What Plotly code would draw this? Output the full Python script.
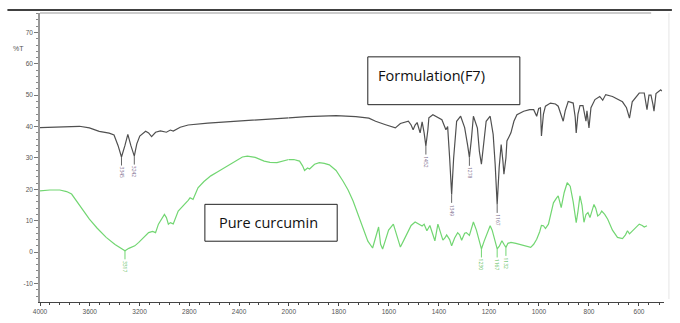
import numpy as np
import plotly.graph_objects as go

# ---------------- data (wavenumber cm-1, %T) ----------------
f7_wn = [4000, 3865, 3786, 3683, 3603, 3524, 3444, 3405, 3373, 3345, 3317, 3294, 3270, 3242,
         3222, 3198, 3151, 3127, 3103, 3071, 3032, 2984, 2952, 2929, 2873, 2809, 2651, 2413,
         2214, 2016, 2000, 1929, 1811, 1732, 1680, 1653, 1613, 1574, 1554, 1522, 1511, 1503,
         1495, 1487, 1475, 1467, 1459, 1452, 1444, 1440, 1424, 1404, 1388, 1372, 1365, 1357,
         1349, 1341, 1329, 1313, 1297, 1285, 1278, 1270, 1262, 1246, 1238, 1230, 1219, 1211,
         1195, 1183, 1175, 1167, 1159, 1151, 1144, 1140, 1132, 1128, 1112, 1100, 1088, 1061,
         1037, 1021, 1009, 1001, 994, 990, 982, 974, 954, 934, 923, 911, 903, 895, 883, 863,
         855, 851, 844, 836, 824, 812, 808, 800, 792, 776, 757, 745, 733, 706, 686, 666, 650,
         638, 627, 599, 579, 572, 568, 560, 552, 544, 540, 532, 524, 513, 509]
f7_t = [39.7, 39.8, 40.0, 40.1, 39.6, 38.5, 37.9, 37.3, 34.0, 30.3, 34.0, 37.5, 34.0, 30.6,
        34.5, 37.0, 38.5, 38.0, 36.8, 38.2, 38.6, 38.2, 38.9, 38.6, 39.8, 40.5, 41.1, 41.7,
        42.4, 42.8, 42.8, 43.2, 43.5, 43.2, 42.7, 41.7, 40.6, 39.6, 41.0, 41.7, 40.5, 39.0,
        40.5, 41.3, 38.0, 41.5, 38.0, 33.8, 39.0, 42.8, 43.8, 43.0, 42.2, 39.0, 40.0, 30.0,
        18.4, 30.0, 41.7, 43.3, 39.7, 34.0, 30.2, 36.0, 43.3, 39.5, 32.0, 28.0, 36.0, 41.7,
        43.3, 37.5, 28.0, 15.2, 27.0, 34.3, 29.0, 24.8, 30.0, 35.4, 38.0, 41.7, 43.8, 44.9,
        45.4, 45.4, 43.3, 45.8, 46.0, 37.0, 44.0, 46.5, 47.5, 47.2, 46.5, 44.0, 41.7, 45.0,
        48.0, 47.5, 43.0, 38.0, 44.0, 46.7, 46.7, 41.7, 45.0, 39.6, 46.0, 48.6, 49.6, 48.4,
        50.2, 49.6, 48.8, 47.9, 46.0, 42.7, 47.9, 50.7, 50.7, 48.0, 45.4, 50.0, 50.0, 47.0,
        44.9, 50.5, 51.0, 51.7, 51.3]

cur_wn = [4000, 3921, 3841, 3786, 3746, 3706, 3659, 3603, 3540, 3468, 3397, 3349, 3317, 3286,
          3262, 3238, 3206, 3167, 3127, 3095, 3071, 3048, 3024, 3000, 2984, 2968, 2952, 2929,
          2889, 2857, 2833, 2809, 2794, 2770, 2746, 2730, 2682, 2627, 2571, 2516, 2468, 2413,
          2373, 2333, 2270, 2198, 2151, 2095, 2032, 2000, 1980, 1957, 1945, 1937, 1925, 1917,
          1897, 1878, 1858, 1838, 1811, 1783, 1763, 1743, 1724, 1704, 1684, 1665, 1653, 1641,
          1633, 1625, 1613, 1601, 1582, 1570, 1554, 1542, 1526, 1511, 1495, 1479, 1467, 1459,
          1448, 1436, 1424, 1416, 1404, 1392, 1384, 1376, 1369, 1357, 1349, 1337, 1325, 1317,
          1309, 1297, 1290, 1278, 1262, 1250, 1238, 1230, 1219, 1203, 1195, 1187, 1179, 1167,
          1159, 1148, 1140, 1132, 1124, 1112, 1092, 1073, 1053, 1033, 1021, 1009, 997, 990,
          982, 974, 962, 950, 942, 930, 923, 911, 899, 887, 875, 863, 851, 844, 836, 828, 820,
          812, 804, 796, 788, 780, 773, 765, 757, 749, 737, 725, 706, 686, 666, 654, 646, 638,
          623, 599, 587, 579, 568]
cur_t = [19.5, 19.8, 19.8, 19.3, 18.5, 16.3, 13.5, 10.5, 7.6, 4.7, 2.4, 1.1, 0.4, 1.2,
         1.7, 2.0, 3.1, 4.6, 6.2, 6.6, 6.2, 8.9, 10.5, 12.0, 11.0, 8.9, 9.4, 9.0,
         13.1, 14.5, 15.2, 16.5, 17.3, 16.8, 19.0, 20.5, 22.5, 24.3, 25.6, 26.9, 28.3, 29.5,
         30.3, 30.6, 30.2, 29.0, 28.6, 28.5, 29.2, 29.5, 29.5, 29.0, 27.5, 26.0, 26.8, 26.5,
         28.0, 28.5, 28.3, 27.8, 26.0, 22.6, 19.8, 16.3, 12.3, 7.8, 3.5, 1.3, 4.5, 8.0,
         2.5, 1.0, 4.0, 7.0, 8.9, 6.0, 1.6, 3.5, 6.2, 8.5, 9.6, 9.0, 8.3, 8.9,
         6.8, 8.5, 5.5, 3.6, 8.9, 6.0, 3.8, 4.5, 5.5, 4.0, 2.0, 4.5, 6.2, 5.5,
         3.8, 6.0, 6.2, 5.3, 9.6, 7.0, 3.0, 1.0, 3.5, 6.5, 8.4, 7.0, 4.5, 1.0,
         1.8, 3.6, 2.5, 1.5, 2.8, 3.1, 2.8, 2.3, 1.8, 1.5, 2.5, 4.1, 6.5, 8.5,
         8.4, 7.5, 8.9, 13.0, 15.7, 17.2, 17.9, 14.2, 19.0, 22.1, 21.0, 16.0, 9.4, 13.0, 17.9, 15.0, 9.5,
         12.0, 12.6, 11.0, 13.5, 15.2, 14.0, 11.5, 12.0, 13.1, 12.0, 10.5, 7.0, 4.7, 4.3, 5.5, 6.8, 5.8,
         7.0, 8.9, 8.5, 8.0, 8.4]

f7_peaks_wn = [3345, 3242, 1452, 1349, 1278, 1167]
f7_peaks_t = [30.3, 30.6, 33.8, 18.4, 30.2, 15.2]
cur_peaks_wn = [3317, 1230, 1167, 1132]
cur_peaks_t = [0.4, 1.0, 1.0, 1.5]

x_ticks_hi = [4000, 3600, 3200, 2800, 2400, 2000]
x_ticks_lo = [1800, 1600, 1400, 1200, 1000, 800, 600]
y_ticks = [-10, 0, 10, 20, 30, 40, 50, 60, 70]

# ---------------- figure ----------------
W, H = 680, 323
ML, MR, MT, MB = 40, 8, 13, 20
split = 252 / 632.0

black = "#505050"
green = "#72d672"

fig = go.Figure()

def add_split(wn, t, color, name):
    wn = np.array(wn, dtype=float)
    t = np.array(t, dtype=float)
    hi = wn >= 2000
    lo = wn <= 2000
    fig.add_trace(go.Scatter(x=wn[hi], y=t[hi], mode="lines", line=dict(color=color, width=1.2),
                             xaxis="x", yaxis="y", name=name, showlegend=False))
    fig.add_trace(go.Scatter(x=wn[lo], y=t[lo], mode="lines", line=dict(color=color, width=1.2),
                             xaxis="x2", yaxis="y", name=name, showlegend=False))

add_split(f7_wn, f7_t, black, "Formulation(F7)")
add_split(cur_wn, cur_t, green, "Pure curcumin")

annotations = []
def peak_labels(wns, ts, color, label_color):
    for w, t in zip(wns, ts):
        xr = "x" if w >= 2000 else "x2"
        annotations.append(dict(x=w, y=t, xref=xr, yref="y", text=str(w), textangle=90,
                                showarrow=True, arrowhead=0, arrowwidth=1, arrowcolor=color,
                                ax=0, ay=16, standoff=0, font=dict(size=5, color=label_color)))

peak_labels(f7_peaks_wn, f7_peaks_t, "#666666", "#7a6a8a")
peak_labels(cur_peaks_wn, cur_peaks_t, green, "#55bb55")

def px2p(px):
    return (px - ML) / 632.0

def py2p(py):
    return (H - MB - py) / 290.0

# text boxes
annotations.append(dict(x=px2p(380), y=py2p(76), xref="paper", yref="paper",
                        text="Formulation(F7)", showarrow=False, xanchor="left", yanchor="middle",
                        font=dict(family="Open Sans, Noto Sans, sans-serif", size=14.5, color="#111")))
annotations.append(dict(x=px2p(219), y=py2p(223), xref="paper", yref="paper",
                        text="Pure curcumin", showarrow=False, xanchor="left", yanchor="middle",
                        font=dict(family="Open Sans, Noto Sans, sans-serif", size=14.5, color="#111")))
annotations.append(dict(x=px2p(18), y=py2p(49), xref="paper", yref="paper",
                        text="%T", showarrow=False, xanchor="center", yanchor="middle",
                        font=dict(family="Liberation Sans, sans-serif", size=7, color="#555")))

shapes = [
    dict(type="rect", xref="paper", yref="paper", x0=px2p(372), x1=px2p(526), y0=py2p(105), y1=py2p(57),
         line=dict(color="#222", width=1)),
    dict(type="rect", xref="paper", yref="paper", x0=px2p(207), x1=px2p(341), y0=py2p(242), y1=py2p(205),
         line=dict(color="#222", width=1)),
    dict(type="line", xref="paper", yref="paper", x0=px2p(7), x1=px2p(680), y0=py2p(10), y1=py2p(10),
         line=dict(color="#000", width=1.5)),
    dict(type="line", xref="paper", yref="paper", x0=0, x1=px2p(659), y0=py2p(13), y1=py2p(13),
         line=dict(color="#bbbbbb", width=1.5)),
    dict(type="line", xref="paper", yref="paper", x0=px2p(677), x1=px2p(677), y0=py2p(300), y1=py2p(13),
         line=dict(color="#e6e6e6", width=1)),
]

tickfont = dict(family="Liberation Sans, sans-serif", size=6.5, color="#555")

fig.update_layout(
    width=W, height=H,
    margin=dict(l=ML, r=MR, t=MT, b=MB),
    paper_bgcolor="white", plot_bgcolor="white",
    showlegend=False,
    annotations=annotations,
    shapes=shapes,
    xaxis=dict(domain=[0, split], range=[4000, 2000], anchor="y",
               tickmode="array", tickvals=x_ticks_hi, ticktext=[str(v) for v in x_ticks_hi],
               ticks="outside", ticklen=3, tickcolor="#444", tickwidth=1,
               minor=dict(tickmode="linear", tick0=0, dtick=80, ticks="outside", ticklen=2, tickcolor="#444"),
               showline=True, linecolor="#444", linewidth=1, showgrid=False, zeroline=False,
               tickfont=tickfont),
    xaxis2=dict(domain=[split, 1], range=[2000, 500], anchor="y",
                tickmode="array", tickvals=x_ticks_lo, ticktext=[str(v) for v in x_ticks_lo],
                ticks="outside", ticklen=3, tickcolor="#444", tickwidth=1,
                minor=dict(tickmode="linear", tick0=0, dtick=40, ticks="outside", ticklen=2, tickcolor="#444"),
                showline=True, linecolor="#444", linewidth=1, showgrid=False, zeroline=False,
                tickfont=tickfont),
    yaxis=dict(range=[-15.9, 76.2], anchor="x",
               tickmode="array", tickvals=y_ticks, ticktext=[str(v) for v in y_ticks],
               ticks="outside", ticklen=4, tickcolor="#777", tickwidth=1,
               minor=dict(tickmode="linear", tick0=0, dtick=2, ticks="outside", ticklen=2, tickcolor="#888"),
               showline=True, linecolor="#999", linewidth=1.5, showgrid=False, zeroline=False,
               tickfont=tickfont),
)

fig.write_html("out.html")
